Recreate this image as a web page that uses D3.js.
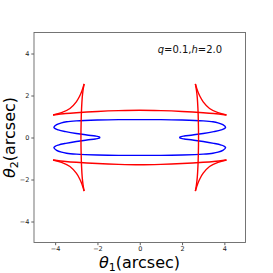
<!DOCTYPE html>
<html>
<head>
<meta charset="utf-8">
<script src="https://cdn.jsdelivr.net/npm/d3@7"></script>
<style>
html,body{margin:0;padding:0;background:#fff;}
svg{display:block;}
text{font-family:"DejaVu Sans",sans-serif;}
</style>
</head>
<body>
<script>
// ---- data ----
const xTicks = [-4, -2, 0, 2, 4];
const yTicks = [-4, -2, 0, 2, 4];
const xDomain = [-5, 5];
const yDomain = [-5, 5];
const annotation = {q: "0.1", h: "2.0"};

// red curve: smooth pieces between cusps
const redLeftVertical = [[-2.63,2.55],[-2.68,2.25],[-2.72,1.9],[-2.75,1.4],[-2.77,0.8],[-2.78,0],[-2.77,-0.8],[-2.75,-1.4],[-2.72,-1.9],[-2.68,-2.25],[-2.63,-2.55]];
const redRightVertical = [[2.63,2.55],[2.68,2.25],[2.72,1.9],[2.75,1.4],[2.77,0.8],[2.78,0],[2.77,-0.8],[2.75,-1.4],[2.72,-1.9],[2.68,-2.25],[2.63,-2.55]];
const redTopLeftArc = [[-2.63,2.55],[-2.74,2.2],[-2.85,1.95],[-3.0,1.7],[-3.3,1.38],[-3.7,1.18],[-4.1,1.07]];
const redBottomLeftArc = [[-2.63,-2.55],[-2.74,-2.2],[-2.85,-1.95],[-3.0,-1.7],[-3.3,-1.38],[-3.7,-1.18],[-4.1,-1.07]];
const redTopRightArc = [[2.63,2.55],[2.74,2.2],[2.85,1.95],[3.0,1.7],[3.3,1.38],[3.7,1.18],[4.1,1.07]];
const redBottomRightArc = [[2.63,-2.55],[2.74,-2.2],[2.85,-1.95],[3.0,-1.7],[3.3,-1.38],[3.7,-1.18],[4.1,-1.07]];
const redTopLine = [[-4.1,1.07],[-3.5,1.14],[-3,1.18],[-2,1.24],[-1,1.28],[0,1.3],[1,1.28],[2,1.24],[3,1.18],[3.5,1.14],[4.1,1.07]];
const redBottomLine = [[-4.1,-1.07],[-3.5,-1.14],[-3,-1.18],[-2,-1.24],[-1,-1.28],[0,-1.3],[1,-1.28],[2,-1.24],[3,-1.18],[3.5,-1.14],[4.1,-1.07]];

// blue closed curve
const blueCurve = [
  [0,0.85],[-1,0.85],[-2,0.83],[-3,0.79],[-3.46,0.75],[-3.7,0.7],[-3.93,0.61],[-4.06,0.49],
  [-4.0,0.42],[-3.85,0.36],[-3.5,0.28],[-3.0,0.19],[-2.5,0.12],[-2.1,0.07],[-1.96,0.045],[-1.9,0.02],[-1.89,0],
  [-1.9,-0.02],[-1.96,-0.045],[-2.1,-0.07],[-2.5,-0.12],[-3.0,-0.19],[-3.5,-0.28],[-3.85,-0.36],[-4.0,-0.42],
  [-4.06,-0.49],[-3.93,-0.61],[-3.7,-0.7],[-3.46,-0.75],[-3,-0.79],[-2,-0.83],[-1,-0.85],[0,-0.85],
  [1,-0.85],[2,-0.83],[3,-0.79],[3.46,-0.75],[3.7,-0.7],[3.93,-0.61],[4.06,-0.49],
  [4.0,-0.42],[3.85,-0.36],[3.5,-0.28],[3.0,-0.19],[2.5,-0.12],[2.1,-0.07],[1.96,-0.045],[1.9,-0.02],[1.89,0],
  [1.9,0.02],[1.96,0.045],[2.1,0.07],[2.5,0.12],[3.0,0.19],[3.5,0.28],[3.85,0.36],[4.0,0.42],
  [4.06,0.49],[3.93,0.61],[3.7,0.7],[3.46,0.75],[3,0.79],[2,0.83],[1,0.85]
];

const redPieces = [redLeftVertical, redRightVertical, redTopLeftArc, redBottomLeftArc,
                   redTopRightArc, redBottomRightArc, redTopLine, redBottomLine];

// ---- drawing ----
const W = 273, H = 273;
const plot = {left: 34, right: 245.5, top: 32.5, bottom: 242.5};

const svg = d3.select("body").append("svg").attr("width", W).attr("height", H);
svg.append("rect").attr("width", W).attr("height", H).attr("fill", "#fff");

const x = d3.scaleLinear().domain(xDomain).range([plot.left, plot.right]);
const y = d3.scaleLinear().domain(yDomain).range([plot.bottom, plot.top]);

const fmt = d => (d < 0 ? "\u2212" + Math.abs(d) : String(d));

const xAxis = svg.append("g").attr("transform", `translate(0,${plot.bottom})`)
  .call(d3.axisBottom(x).tickValues(xTicks).tickFormat(fmt).tickSize(2.7).tickPadding(1.5));
const yAxis = svg.append("g").attr("transform", `translate(${plot.left},0)`)
  .call(d3.axisLeft(y).tickValues(yTicks).tickFormat(fmt).tickSize(2.7).tickPadding(2));
[xAxis, yAxis].forEach(g => {
  g.select(".domain").remove();
  g.selectAll(".tick line").attr("stroke", "#333").attr("stroke-width", 0.8);
  g.selectAll(".tick text").attr("fill", "#222").attr("font-size", 6.5)
    .attr("font-family", "DejaVu Sans, sans-serif");
});

svg.append("clipPath").attr("id", "clip").append("rect")
  .attr("x", plot.left).attr("y", plot.top)
  .attr("width", plot.right - plot.left).attr("height", plot.bottom - plot.top);

const g = svg.append("g").attr("clip-path", "url(#clip)");
const lineOpen = d3.line().x(d => x(d[0])).y(d => y(d[1])).curve(d3.curveCatmullRom.alpha(0.5));
const lineClosed = d3.line().x(d => x(d[0])).y(d => y(d[1])).curve(d3.curveCatmullRomClosed.alpha(0.5));

g.append("path").datum(blueCurve).attr("d", lineClosed)
  .attr("fill", "none").attr("stroke", "#0000ff").attr("stroke-width", 1.4);
g.selectAll("path.red").data(redPieces).join("path").attr("class", "red")
  .attr("d", lineOpen).attr("fill", "none").attr("stroke", "#ff0000")
  .attr("stroke-width", 1.4).attr("stroke-linejoin", "round");

// frame
svg.append("rect").attr("x", plot.left).attr("y", plot.top)
  .attr("width", plot.right - plot.left).attr("height", plot.bottom - plot.top)
  .attr("fill", "none").attr("stroke", "#666").attr("stroke-width", 0.9);

// annotation
const ann = svg.append("text").attr("x", 157.7).attr("y", 53.3).attr("font-size", 10).attr("fill", "#111");
ann.append("tspan").attr("font-style", "italic").text("q");
ann.append("tspan").text("=" + annotation.q + ",");
ann.append("tspan").attr("font-style", "italic").text("h");
ann.append("tspan").text("=" + annotation.h);

// axis labels
const xl = svg.append("text").attr("x", 139.5).attr("y", 267.5).attr("text-anchor", "middle")
  .attr("font-size", 16).attr("fill", "#000");
xl.append("tspan").attr("font-style", "italic").text("\u03b8");
xl.append("tspan").attr("font-size", 11).attr("dy", 3).text("1");
xl.append("tspan").attr("dy", -3).text("(arcsec)");

const yl = svg.append("text").attr("transform", "translate(15,137.5) rotate(-90)")
  .attr("text-anchor", "middle").attr("font-size", 16).attr("fill", "#000");
yl.append("tspan").attr("font-style", "italic").text("\u03b8");
yl.append("tspan").attr("font-size", 11).attr("dy", 3).text("2");
yl.append("tspan").attr("dy", -3).text("(arcsec)");
</script>
</body>
</html>
